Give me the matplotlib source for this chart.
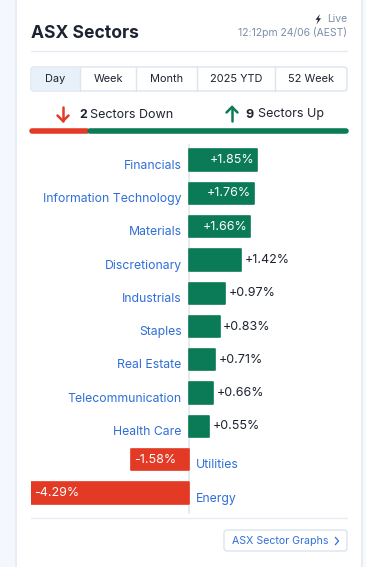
import matplotlib.pyplot as plt
from matplotlib.patches import FancyBboxPatch, Rectangle, Polygon

plt.rcParams['font.family'] = ['Inter', 'DejaVu Sans']

sectors = ['Financials', 'Information Technology', 'Materials', 'Discretionary',
           'Industrials', 'Staples', 'Real Estate', 'Telecommunication',
           'Health Care', 'Utilities', 'Energy']
changes = [1.85, 1.76, 1.66, 1.42, 0.97, 0.83, 0.71, 0.66, 0.55, -1.58, -4.29]
tabs = ['Day', 'Week', 'Month', '2025 YTD', '52 Week']
n_down = 2
n_up = 9

W, H = 366, 567
GREEN = '#0a7a57'
RED = '#e33a26'
BLUE = '#2f6fd8'
DARK = '#1d2330'
GREY = '#7d8ea6'
LINE = '#e6ecf3'

fig = plt.figure(figsize=(W / 100, H / 100), dpi=100)
fig.patch.set_facecolor('white')

# background axes in pixel coordinates
bg = fig.add_axes([0, 0, 1, 1])
bg.set_xlim(0, W)
bg.set_ylim(H, 0)
bg.axis('off')

bg.add_patch(Rectangle((0, 0), 15, H, color='#f4f8fd', lw=0))
bg.add_patch(Rectangle((15, 0), 1.5, H, color='#e6edf6', lw=0))
bg.add_patch(Rectangle((361, 0), 1.5, H, color='#e6edf6', lw=0))
bg.add_patch(Rectangle((362.5, 0), 4, H, color='#f7fafd', lw=0))

# header
bg.text(31, 33, 'ASX Sectors', fontsize=12.6, fontweight='bold', color=DARK, va='center', ha='left')
bg.text(347, 19, 'Live', fontsize=7.5, color=GREY, va='center', ha='right')
bg.add_patch(Polygon([[320, 14], [315.5, 19.8], [318, 19.8], [316.5, 24.5],
                      [321, 18.3], [318.5, 18.3]], closed=True, fc=DARK, ec='none'))
bg.text(347, 33, '12:12pm 24/06 (AEST)', fontsize=7.5, color=GREY, va='center', ha='right')
bg.plot([31, 347], [51, 51], color=LINE, lw=1)

# tabs
edges = [31, 80, 136, 197, 275, 347]
bg.add_patch(FancyBboxPatch((31, 67), 316, 24, boxstyle='round,pad=0,rounding_size=3',
                            fc='white', ec='#dbe4ef', lw=1))
bg.add_patch(FancyBboxPatch((31.5, 67.5), 48.5, 23, boxstyle='round,pad=0,rounding_size=3',
                            fc='#e8f0fa', ec='none'))
for i, t in enumerate(tabs):
    if i > 0:
        bg.plot([edges[i], edges[i]], [67, 91], color='#dbe4ef', lw=1)
    bg.text((edges[i] + edges[i + 1]) / 2, 79.5, t, fontsize=7.9, color=DARK, ha='center', va='center')

# down / up summary
bg.plot([63, 63], [107, 121], color=RED, lw=1.8, solid_capstyle='round')
bg.plot([57.5, 63, 68.5], [115.5, 121, 115.5], color=RED, lw=1.8,
        solid_capstyle='round', solid_joinstyle='miter')
bg.text(79, 114.5, str(n_down), fontsize=9, fontweight='bold', color=DARK, va='center', ha='left')
bg.text(90.5, 114.5, 'Sectors Down', fontsize=9, color=DARK, va='center', ha='left')
bg.plot([232, 232], [107, 121], color=GREEN, lw=1.8, solid_capstyle='round')
bg.plot([226.5, 232, 237.5], [112.5, 107, 112.5], color=GREEN, lw=1.8,
        solid_capstyle='round', solid_joinstyle='miter')
bg.text(245, 114.5, str(n_up), fontsize=9, fontweight='bold', color=DARK, va='center', ha='left')
bg.text(257.5, 114.5, 'Sectors Up', fontsize=9, color=DARK, va='center', ha='left')

split = 31 + 316 * n_down / (n_down + n_up)
bg.plot([32, split - 1.5], [131, 131], color=RED, lw=4, solid_capstyle='round')
bg.plot([split + 1.5, 346], [131, 131], color=GREEN, lw=4, solid_capstyle='round')

# footer
bg.plot([31, 347], [518, 518], color=LINE, lw=1)
bg.add_patch(FancyBboxPatch((224, 530), 123, 21, boxstyle='round,pad=0,rounding_size=3',
                            fc='white', ec='#dbe4ef', lw=1))
bg.text(280, 541, 'ASX Sector Graphs', fontsize=7.6, color=BLUE, ha='center', va='center')
bg.plot([335.5, 338.5, 335.5], [537.5, 541, 544.5], color=BLUE, lw=0.9)

# bar chart axes
y0 = 143.35
y1 = 509.65
ax = fig.add_axes([31 / W, 1 - y1 / H, 316 / W, (y1 - y0) / H])
ax.set_xlim(-4.29, 4.29)
ax.set_ylim(len(sectors) - 0.5, -0.5)
ax.axis('off')
ax.patch.set_alpha(0)

ypos = list(range(len(sectors)))
colors = [GREEN if c >= 0 else RED for c in changes]
ax.barh(ypos, changes, height=0.64, color=colors, edgecolor=colors, lw=1.2, joinstyle='round')
ax.plot([0, 0], [-0.45, 10.6], color='#e3e7ec', lw=1.2, zorder=0, clip_on=False)

for y, name, c in zip(ypos, sectors, changes):
    lab = ('+' if c >= 0 else '') + f'{c:.2f}%'
    if c >= 0:
        ax.text(-0.2, y + 0.17, name, fontsize=8.8, color=BLUE, ha='right', va='center')
        if c >= 1.5:
            ax.text(c - 0.08, y, lab, fontsize=9, color='white', ha='right', va='center')
        else:
            ax.text(c + 0.1, y, lab, fontsize=9, color=DARK, ha='left', va='center')
    else:
        ax.text(0.2, y + 0.17, name, fontsize=8.8, color=BLUE, ha='left', va='center')
        ax.text(c + 0.08, y, lab, fontsize=9, color='white', ha='left', va='center')

fig.savefig('out.png', dpi=100)
